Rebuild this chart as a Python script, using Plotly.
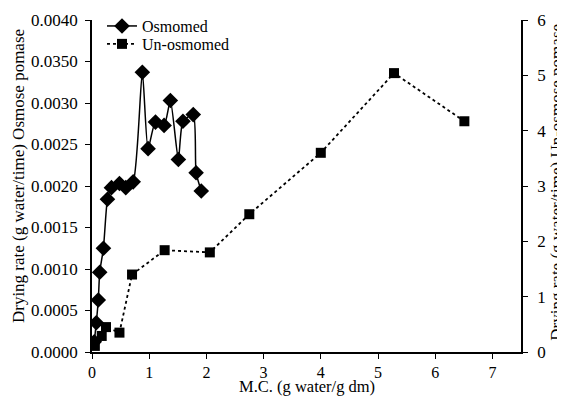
import plotly.graph_objects as go

# Osmomed (left axis)
osm_x = [0.04, 0.075, 0.11, 0.135, 0.20, 0.27, 0.34, 0.48, 0.59, 0.72, 0.88, 0.98, 1.11, 1.26, 1.37, 1.51, 1.59, 1.77, 1.82, 1.91]
osm_y = [0.000124, 0.000353, 0.000627, 0.00096, 0.00125, 0.00184, 0.00198, 0.00203, 0.00198, 0.00205,
         0.00337, 0.00245, 0.00277, 0.00273, 0.00303, 0.00232, 0.00278, 0.00286, 0.00216, 0.00194]

# Un-osmomed (right axis)
un_x = [0.05, 0.17, 0.245, 0.48, 0.70, 1.27, 2.06, 2.75, 4.00, 5.28, 6.51]
un_y = [0.11, 0.29, 0.45, 0.35, 1.40, 1.84, 1.80, 2.49, 3.60, 5.04, 4.17]

left_tickvals = [0, 0.0005, 0.0010, 0.0015, 0.0020, 0.0025, 0.0030, 0.0035, 0.0040]
left_ticktext = ["0.0000", "0.0005", "0.0010", "0.0015", "0.0020", "0.0025", "0.0030", "0.0350", "0.0040"]
right_tickvals = [0, 1, 2, 3, 4, 5, 6]
x_tickvals = [0, 1, 2, 3, 4, 5, 6, 7]

x_title = "M.C. (g water/g dm)"
y_title = "Drying rate (g water/time) Osmose pomase"
y2_title = "Drying rate (g water/time) Un-osmose pomase"

FONT = "Liberation Serif"
TICK_SIZE = 17
TITLE_SIZE = 17
tickfont = dict(family=FONT, size=TICK_SIZE, color="black")
xtickfont = dict(family=FONT, size=16, color="black")
titlefont = dict(family=FONT, size=TITLE_SIZE, color="black")
xtitlefont = dict(family=FONT, size=16.5, color="black")
legfont = dict(family=FONT, size=16, color="black")

fig = go.Figure()
fig.add_trace(go.Scatter(
    x=osm_x, y=osm_y, name="Osmomed", mode="lines+markers", legend="legend",
    line=dict(color="black", width=1.5, shape="spline", smoothing=0.6),
    marker=dict(symbol="diamond", size=12, color="black"),
))
fig.add_trace(go.Scatter(
    x=un_x, y=un_y, name="Un-osmomed", mode="lines+markers", yaxis="y2", legend="legend2",
    line=dict(color="black", width=1.8, dash="dot"),
    marker=dict(symbol="square", size=10, color="black"),
))

# the page body adds an 8px offset; the figure is sized to fit the 565x398 window
fig.update_layout(
    width=557, height=390,
    margin=dict(l=84, r=44, t=12, b=46, autoexpand=False),
    paper_bgcolor="white", plot_bgcolor="white",
    font=dict(family=FONT, size=TICK_SIZE, color="black"),
    showlegend=True,
    legend=dict(x=0.0233, y=1.033, xanchor="left", yanchor="top",
                bgcolor="rgba(0,0,0,0)", font=legfont, itemwidth=30),
    legend2=dict(x=0.0233, y=0.979, xanchor="left", yanchor="top",
                 bgcolor="rgba(0,0,0,0)", font=legfont, itemwidth=30),
    xaxis=dict(range=[0, 7.5], tickvals=x_tickvals, showline=True, linecolor="black", linewidth=1.5,
               ticks="outside", ticklen=5, tickcolor="black", showgrid=False, zeroline=False,
               automargin=False, tickfont=xtickfont, ticklabelstandoff=0),
    yaxis=dict(range=[0, 0.0040], tickvals=left_tickvals, ticktext=left_ticktext,
               showline=True, linecolor="black", linewidth=1.5, ticks="outside", ticklen=5,
               tickcolor="black", showgrid=False, zeroline=False, automargin=False,
               tickfont=tickfont, ticklabelstandoff=4),
    yaxis2=dict(range=[0, 6], tickvals=right_tickvals, overlaying="y", side="right",
                showline=True, linecolor="black", linewidth=1.5, ticks="outside", ticklen=5,
                tickcolor="black", showgrid=False, zeroline=False, automargin=False,
                tickfont=tickfont, ticklabelstandoff=6),
    annotations=[
        dict(text=x_title, xref="paper", yref="paper", x=0.5, y=-0.1386,
             xanchor="center", yanchor="bottom", showarrow=False, font=xtitlefont),
        dict(text=y_title, xref="paper", yref="paper", x=-0.1725, y=0.53, textangle=-90,
             xanchor="center", yanchor="middle", showarrow=False, font=titlefont),
        dict(text=y2_title, xref="paper", yref="paper", x=1.084, y=0.51, textangle=-90,
             xanchor="center", yanchor="middle", showarrow=False, font=titlefont),
    ],
)

fig.write_html("out.html")
